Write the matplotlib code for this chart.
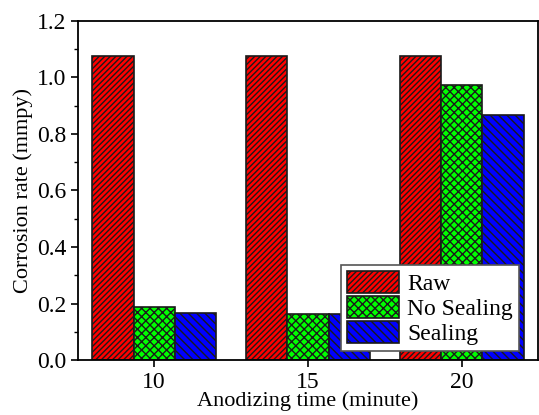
import matplotlib
matplotlib.use("Agg")
import matplotlib.pyplot as plt
import numpy as np
from matplotlib.ticker import MultipleLocator

plt.rcParams['font.family'] = ['Liberation Serif', 'DejaVu Serif']
plt.rcParams['hatch.linewidth'] = 1.0

times = [10, 15, 20]
series_names = ["Raw", "No Sealing", "Sealing"]
raw = [1.076, 1.076, 1.076]
no_sealing = [0.189, 0.162, 0.973]
sealing = [0.165, 0.162, 0.867]

colors = ['#ff0000', '#00ff00', '#0000ff']
hatches = ['//////', 'xxxx', '\\\\\\\\']

fig = plt.figure(figsize=(5.39, 4.15), dpi=100)
ax = fig.add_axes([78/539, 1-360/415, (538-78)/539, (360-21)/415])

w = 1.333
x = np.array(times, dtype=float)
for i, (vals, c, h, n) in enumerate(zip([raw, no_sealing, sealing], colors, hatches, series_names)):
    ax.bar(x + (i-1)*w, vals, width=w, color=c, hatch=h, edgecolor='#1a1a1a', linewidth=1.2, label=n)

ax.set_xlim(7.53, 22.47)
ax.set_ylim(0, 1.2)
ax.set_xticks(times)
ax.yaxis.set_major_locator(MultipleLocator(0.2))
ax.yaxis.set_minor_locator(MultipleLocator(0.1))
ax.yaxis.set_major_formatter(matplotlib.ticker.FormatStrFormatter('%.1f'))
ax.tick_params(axis='both', which='major', direction='out', length=5, width=1.2, labelsize=17)
ax.tick_params(axis='y', which='minor', direction='out', length=3, width=1.0)
ax.tick_params(top=False, right=False)
for s in ax.spines.values():
    s.set_linewidth(1.3)
ax.set_xlabel('Anodizing time (minute)', fontsize=16, labelpad=-1)
ax.set_ylabel('Corrosion rate (mmpy)', fontsize=16, labelpad=3)

leg = ax.legend(loc='lower right', bbox_to_anchor=((519-78)/460, (360-351)/339), fontsize=17,
                frameon=True, fancybox=False, edgecolor='#555555', framealpha=1,
                handlelength=2.2, handleheight=1.05, handletextpad=0.35, borderpad=0.25,
                labelspacing=0.05, borderaxespad=0)
leg.get_frame().set_linewidth(1.2)

fig.savefig('out.png', dpi=100)
